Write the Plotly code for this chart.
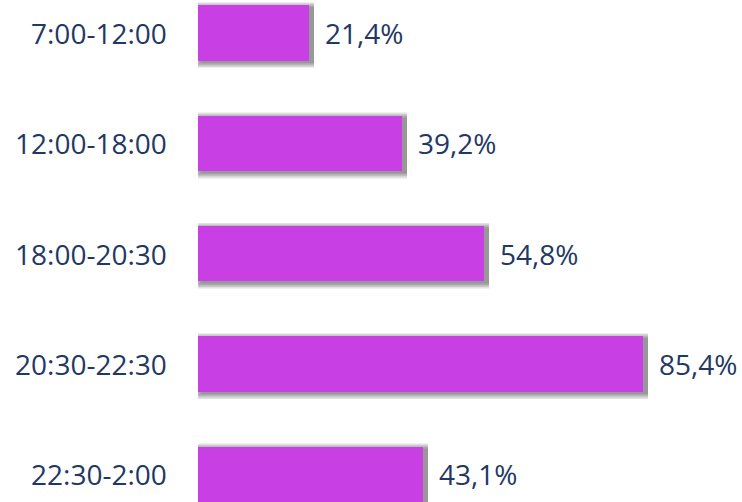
import plotly.graph_objects as go

# Share of activity by time slot
time_slots = ["7:00-12:00", "12:00-18:00", "18:00-20:30", "20:30-22:30", "22:30-2:00"]
shares = [21.4, 39.2, 54.8, 85.4, 43.1]

BAR_COLOR = "#C840E3"
TEXT_COLOR = "#1F3864"
FONT = "Open Sans"
FONT_SIZE = 28

PX_PER_X = 5.21      # pixels per percentage point
PX_PER_Y = 110.35    # pixels per category step
BAR_W = 0.5

positions = list(range(len(time_slots)))

fig = go.Figure()

# Soft drop shadow: stacked translucent layers, offset right and down
shadow_dx, shadow_dy = 2.5, 2.0
n_layers = 8
for k in range(n_layers, -1, -1):
    grow = k * 0.7
    fig.add_trace(go.Bar(
        orientation="h",
        y=positions,
        x=[v + (shadow_dx + grow) / PX_PER_X for v in shares],
        base=[(shadow_dx - grow) / PX_PER_X] * len(shares),
        width=BAR_W + 2 * grow / PX_PER_Y,
        offset=-BAR_W / 2 - grow / PX_PER_Y + shadow_dy / PX_PER_Y,
        marker=dict(color="rgba(50,50,50,0.075)", line=dict(width=0)),
        hoverinfo="skip",
        showlegend=False,
    ))

fig.add_trace(go.Bar(
    orientation="h",
    y=positions,
    x=shares,
    width=BAR_W,
    marker=dict(color=BAR_COLOR, line=dict(width=0)),
    showlegend=False,
))

# Category labels at the left and value labels after each bar
for p, name, v in zip(positions, time_slots, shares):
    fig.add_annotation(
        x=0, y=p, xref="x", yref="y", text=name, showarrow=False,
        xanchor="right", xshift=-29, font=dict(family=FONT, size=FONT_SIZE, color=TEXT_COLOR),
    )
    fig.add_annotation(
        x=v, y=p, xref="x", yref="y", text=f"{v:.1f}".replace(".", ",") + "%",
        showarrow=False, xanchor="left", xshift=14,
        font=dict(family=FONT, size=FONT_SIZE, color=TEXT_COLOR),
    )

fig.update_layout(
    width=742, height=502,
    margin=dict(l=198, r=0, t=0, b=0),
    paper_bgcolor="white", plot_bgcolor="white",
    barmode="overlay",
    bargap=0,
    xaxis=dict(range=[0, (742 - 198) / PX_PER_X], visible=False, fixedrange=True),
    yaxis=dict(range=[(502 - 33) / PX_PER_Y, -33 / PX_PER_Y], visible=False, fixedrange=True),
)

fig.write_html("out.html")
